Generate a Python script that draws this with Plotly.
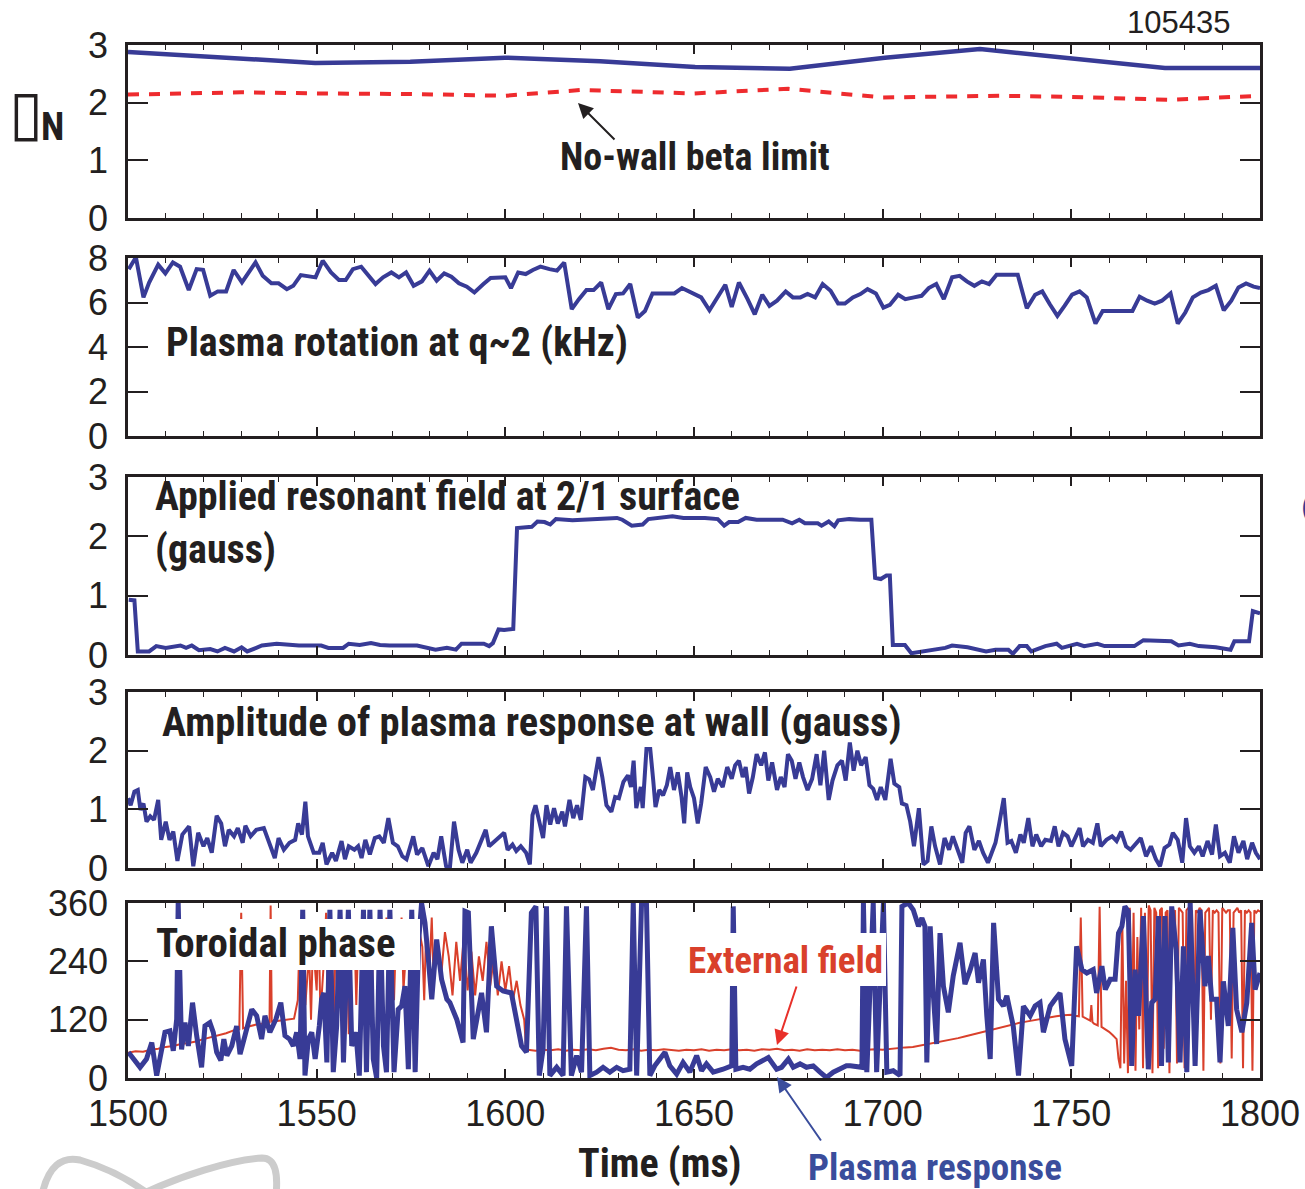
import plotly.graph_objects as go

# ---------------- data ----------------
beta_n = [(1500, 2.88), (1549.6, 2.69), (1574.8, 2.71), (1599.9, 2.78), (1625.1, 2.72),
          (1650.3, 2.62), (1675.4, 2.59), (1700.6, 2.78), (1725.8, 2.93), (1774.8, 2.60),
          (1800, 2.60)]
beta_nowall = [(1500, 2.14), (1530, 2.18), (1550, 2.16), (1575, 2.15), (1600, 2.12),
               (1620, 2.22), (1625, 2.21), (1650, 2.16), (1675, 2.24), (1700, 2.09),
               (1731, 2.12), (1750, 2.10), (1776, 2.05), (1800, 2.12)]

rotation = [(1500.2, 7.50), (1502.1, 8.03), (1504.1, 6.23), (1505.6, 6.90), (1508.0, 7.70),
            (1509.9, 7.31), (1511.9, 7.80), (1513.8, 7.61), (1516.1, 6.56), (1518.2, 7.50),
            (1519.9, 7.47), (1521.8, 6.30), (1523.8, 6.50), (1526.0, 6.50), (1528.0, 7.46),
            (1530.2, 6.90), (1533.8, 7.80), (1535.7, 7.20), (1538.0, 6.86), (1539.9, 6.86),
            (1542.1, 6.60), (1543.8, 6.75), (1545.8, 7.23), (1549.7, 7.13), (1551.6, 7.88),
            (1553.8, 7.35), (1555.9, 7.01), (1557.7, 7.01), (1559.6, 7.50), (1561.8, 7.61),
            (1565.6, 6.83), (1567.6, 7.13), (1569.8, 7.35), (1571.8, 7.13), (1573.7, 7.35),
            (1575.7, 6.75), (1577.9, 6.95), (1579.9, 7.43), (1581.8, 6.98), (1583.8, 7.31),
            (1585.7, 7.16), (1587.7, 6.86), (1589.8, 6.71), (1591.8, 6.45), (1594.2, 6.83),
            (1596.1, 7.10), (1600.0, 7.13), (1601.5, 6.65), (1603.4, 7.35), (1605.4, 7.28),
            (1607.3, 7.46), (1609.3, 7.61), (1611.7, 7.50), (1613.7, 7.43), (1615.6, 7.80),
            (1617.6, 5.70), (1619.5, 6.15), (1621.5, 6.56), (1623.4, 6.56), (1625.4, 6.90),
            (1627.3, 5.70), (1629.3, 6.38), (1631.2, 6.41), (1633.1, 6.83), (1635.1, 5.32),
            (1637.0, 5.62), (1639.0, 6.41), (1644.8, 6.41), (1646.8, 6.65), (1648.7, 6.50),
            (1651.9, 6.23), (1654.1, 5.65), (1656.3, 6.23), (1658.3, 6.80), (1660.0, 5.80),
            (1661.9, 6.90), (1664.2, 6.15), (1666.1, 5.47), (1668.1, 6.35), (1670.0, 5.85),
            (1672.0, 6.08), (1674.3, 6.50), (1676.2, 6.23), (1678.2, 6.23), (1680.1, 6.38),
            (1682.1, 6.23), (1684.1, 6.83), (1686.2, 6.53), (1688.2, 5.95), (1690.0, 5.95),
            (1692.1, 6.23), (1694.1, 6.38), (1696.0, 6.60), (1698.2, 6.41), (1700.2, 5.77),
            (1701.9, 5.89), (1704.1, 6.35), (1706.0, 6.15), (1708.3, 6.23), (1710.3, 6.30),
            (1712.2, 6.65), (1714.2, 6.83), (1716.2, 6.15), (1718.4, 7.13), (1720.4, 7.20),
            (1722.3, 6.95), (1724.3, 6.75), (1726.3, 6.95), (1728.2, 6.83), (1730.2, 7.25),
            (1735.8, 7.25), (1738.2, 5.74), (1740.4, 6.35), (1742.3, 6.50), (1744.3, 5.92),
            (1746.3, 5.40), (1748.2, 5.85), (1750.2, 6.35), (1752.2, 6.50), (1754.1, 6.23),
            (1756.4, 5.05), (1758.3, 5.62), (1766.2, 5.62), (1768.1, 6.26), (1770.1, 6.08),
            (1772.1, 5.95), (1774.0, 6.08), (1776.3, 6.41), (1778.2, 5.05), (1780.2, 5.55),
            (1782.2, 6.23), (1784.3, 6.45), (1786.3, 6.56), (1788.3, 6.75), (1790.4, 5.65),
            (1792.4, 6.08), (1794.3, 6.68), (1796.3, 6.86), (1798.3, 6.71), (1800.0, 6.65)]

applied_field = [(1500.2, 0.93), (1501.7, 0.92), (1502.6, 0.06), (1505.6, 0.06), (1507.5, 0.15),
                 (1510.0, 0.12), (1513.9, 0.16), (1515.4, 0.12), (1516.9, 0.16), (1518.8, 0.08),
                 (1521.8, 0.10), (1523.7, 0.06), (1525.7, 0.12), (1528.1, 0.06), (1530.1, 0.13),
                 (1531.6, 0.06), (1534.0, 0.12), (1535.5, 0.16), (1539.4, 0.19), (1545.3, 0.16),
                 (1551.2, 0.16), (1553.1, 0.12), (1557.0, 0.12), (1558.5, 0.19), (1561.4, 0.17),
                 (1564.4, 0.20), (1566.8, 0.17), (1569.3, 0.16), (1576.6, 0.16), (1579.1, 0.12),
                 (1581.5, 0.09), (1584.5, 0.12), (1586.9, 0.09), (1588.4, 0.19), (1594.3, 0.19),
                 (1595.7, 0.15), (1596.7, 0.20), (1598.2, 0.43), (1599.7, 0.42), (1602.1, 0.44),
                 (1603.1, 2.14), (1607.0, 2.16), (1608.5, 2.25), (1610.4, 2.24), (1611.9, 2.20),
                 (1613.4, 2.29), (1617.8, 2.27), (1629.6, 2.31), (1631.0, 2.28), (1633.5, 2.18),
                 (1636.4, 2.20), (1637.9, 2.29), (1641.3, 2.31), (1644.3, 2.34), (1647.2, 2.31),
                 (1652.9, 2.31), (1656.3, 2.29), (1658.0, 2.18), (1659.3, 2.24), (1661.7, 2.24),
                 (1663.7, 2.31), (1666.6, 2.28), (1673.5, 2.28), (1676.0, 2.22), (1677.9, 2.28),
                 (1679.4, 2.22), (1682.8, 2.22), (1683.8, 2.18), (1685.7, 2.25), (1687.2, 2.17),
                 (1688.2, 2.27), (1691.1, 2.29), (1694.1, 2.28), (1697.0, 2.28), (1698.0, 1.30),
                 (1699.5, 1.28), (1701.0, 1.34), (1701.9, 1.34), (1702.7, 0.17), (1705.9, 0.17),
                 (1707.6, 0.03), (1712.7, 0.09), (1716.6, 0.12), (1718.4, 0.16), (1722.5, 0.13),
                 (1727.4, 0.06), (1729.9, 0.09), (1733.3, 0.09), (1734.5, 0.02), (1736.3, 0.15),
                 (1738.2, 0.15), (1739.4, 0.06), (1743.1, 0.15), (1746.1, 0.19), (1747.5, 0.12),
                 (1751.5, 0.19), (1753.4, 0.15), (1756.9, 0.19), (1758.8, 0.15), (1766.7, 0.15),
                 (1769.1, 0.25), (1776.5, 0.23), (1778.4, 0.16), (1781.4, 0.19), (1783.8, 0.15),
                 (1788.3, 0.13), (1792.2, 0.09), (1793.2, 0.23), (1797.1, 0.23), (1798.1, 0.74),
                 (1800.0, 0.70)]

response_amplitude = [
    (1500.0, 1.19), (1500.7, 1.07), (1501.7, 1.30), (1502.6, 1.33), (1503.3, 0.99), (1504.1, 1.10),
    (1504.9, 0.79), (1505.9, 0.88), (1506.9, 0.82), (1508.0, 1.16), (1508.8, 0.48), (1510.0, 0.79),
    (1511.0, 0.48), (1512.0, 0.62), (1513.1, 0.12), (1514.4, 0.57), (1516.2, 0.71), (1517.3, 0.03),
    (1518.6, 0.60), (1520.0, 0.37), (1521.0, 0.51), (1522.2, 0.26), (1523.5, 0.89), (1524.7, 0.76),
    (1525.7, 0.37), (1526.7, 0.65), (1528.1, 0.54), (1529.1, 0.68), (1530.4, 0.43), (1531.1, 0.72),
    (1532.5, 0.54), (1534.0, 0.65), (1536.0, 0.68), (1537.4, 0.43), (1538.9, 0.17), (1539.9, 0.51),
    (1541.3, 0.31), (1542.8, 0.43), (1544.3, 0.48), (1545.1, 0.76), (1546.1, 0.57), (1547.0, 1.13),
    (1547.7, 0.54), (1549.2, 0.26), (1550.7, 0.26), (1551.6, 0.43), (1552.6, 0.06), (1554.1, 0.26),
    (1555.1, 0.12), (1556.6, 0.46), (1557.5, 0.15), (1558.5, 0.37), (1560.0, 0.31), (1561.0, 0.37),
    (1561.9, 0.17), (1562.9, 0.48), (1564.1, 0.23), (1565.4, 0.51), (1566.6, 0.54), (1567.8, 0.43),
    (1569.0, 0.85), (1570.2, 0.43), (1571.5, 0.37), (1572.7, 0.20), (1573.8, 0.15), (1575.6, 0.54),
    (1576.6, 0.23), (1578.0, 0.34), (1579.6, 0.03), (1581.0, 0.26), (1582.0, 0.15), (1583.0, 0.54),
    (1584.3, 0.03), (1585.3, 0.00), (1586.4, 0.79), (1587.6, 0.31), (1588.6, 0.09), (1589.9, 0.31),
    (1590.8, 0.09), (1592.3, 0.26), (1593.5, 0.46), (1594.8, 0.65), (1595.7, 0.37), (1596.7, 0.43),
    (1598.2, 0.51), (1599.7, 0.60), (1600.6, 0.31), (1601.9, 0.40), (1602.9, 0.29), (1604.1, 0.37),
    (1605.5, 0.26), (1606.5, 0.06), (1607.2, 0.90), (1608.0, 1.07), (1609.0, 0.79), (1610.0, 0.51),
    (1610.9, 1.07), (1611.9, 0.74), (1612.9, 1.02), (1613.9, 0.76), (1615.1, 0.96), (1615.8, 0.71),
    (1617.0, 1.16), (1618.0, 0.85), (1619.0, 1.07), (1620.0, 0.82), (1621.2, 1.55), (1622.2, 1.51),
    (1623.2, 1.33), (1624.7, 1.89), (1625.7, 1.55), (1626.8, 1.07), (1628.1, 0.96), (1629.1, 1.21),
    (1630.1, 1.19), (1631.3, 1.47), (1632.5, 1.58), (1633.3, 1.38), (1634.0, 1.83), (1634.7, 1.02),
    (1635.9, 1.38), (1636.4, 1.02), (1637.4, 2.03), (1638.4, 2.03), (1639.2, 1.49), (1639.8, 1.04),
    (1640.8, 1.33), (1641.8, 1.24), (1642.8, 1.41), (1643.7, 1.72), (1644.7, 1.33), (1645.7, 1.63),
    (1646.7, 1.21), (1647.4, 0.76), (1648.2, 1.63), (1649.0, 1.38), (1650.0, 1.19), (1651.0, 0.76),
    (1651.9, 1.10), (1653.1, 1.72), (1654.3, 1.55), (1655.3, 1.30), (1656.3, 1.52), (1657.6, 1.38),
    (1658.8, 1.72), (1660.0, 1.52), (1660.9, 1.75), (1661.9, 1.83), (1662.9, 1.55), (1663.7, 1.72),
    (1664.6, 1.27), (1665.6, 1.55), (1666.6, 1.94), (1667.8, 1.75), (1668.8, 1.97), (1669.7, 1.49),
    (1670.7, 1.80), (1672.0, 1.33), (1673.0, 1.55), (1674.0, 1.38), (1674.9, 1.94), (1675.9, 1.83),
    (1676.9, 1.52), (1677.9, 1.80), (1678.9, 1.55), (1680.1, 1.33), (1681.3, 1.52), (1682.5, 1.94),
    (1683.5, 1.41), (1684.5, 2.00), (1685.7, 1.16), (1686.7, 1.49), (1688.0, 1.75), (1689.2, 1.83),
    (1690.2, 1.49), (1691.3, 2.14), (1692.3, 1.66), (1693.3, 2.00), (1694.3, 1.75), (1695.5, 1.89),
    (1696.5, 1.41), (1697.5, 1.35), (1698.5, 1.16), (1699.5, 1.38), (1700.7, 1.16), (1702.1, 1.86),
    (1703.1, 1.44), (1704.4, 1.38), (1705.1, 1.10), (1706.3, 1.07), (1707.3, 0.79), (1708.3, 0.37),
    (1709.6, 1.02), (1710.8, 0.06), (1711.9, 0.12), (1712.9, 0.71), (1713.9, 0.37), (1715.2, 0.06),
    (1716.4, 0.51), (1717.6, 0.31), (1718.6, 0.54), (1719.8, 0.31), (1721.1, 0.09), (1722.0, 0.60),
    (1723.0, 0.71), (1724.3, 0.31), (1725.5, 0.46), (1726.6, 0.26), (1727.9, 0.09), (1728.9, 0.26),
    (1729.9, 0.43), (1730.9, 0.76), (1732.1, 1.19), (1733.1, 0.43), (1734.1, 0.46), (1735.3, 0.26),
    (1736.5, 0.57), (1737.4, 0.43), (1738.6, 0.85), (1739.7, 0.37), (1740.7, 0.57), (1742.0, 0.37),
    (1743.1, 0.48), (1744.6, 0.46), (1745.6, 0.71), (1746.6, 0.37), (1747.8, 0.60), (1749.0, 0.54),
    (1750.0, 0.37), (1751.0, 0.51), (1752.2, 0.68), (1753.1, 0.37), (1754.4, 0.48), (1755.7, 0.43),
    (1756.9, 0.76), (1757.8, 0.37), (1759.3, 0.48), (1760.8, 0.54), (1762.0, 0.46), (1763.2, 0.62),
    (1764.5, 0.37), (1765.7, 0.31), (1767.2, 0.43), (1768.4, 0.51), (1769.8, 0.20), (1771.1, 0.37),
    (1772.4, 0.15), (1773.5, 0.03), (1774.7, 0.34), (1776.0, 0.40), (1776.9, 0.60), (1778.2, 0.48),
    (1779.4, 0.09), (1780.4, 0.85), (1781.4, 0.37), (1782.6, 0.26), (1783.8, 0.37), (1784.8, 0.20),
    (1786.1, 0.46), (1787.3, 0.23), (1788.3, 0.74), (1789.4, 0.20), (1790.7, 0.26), (1792.0, 0.09),
    (1793.1, 0.54), (1794.3, 0.26), (1795.6, 0.46), (1796.6, 0.15), (1797.9, 0.43), (1798.9, 0.26),
    (1800.0, 0.15)]

phase_plasma = [
    (1500.1, 53), (1501.4, 39), (1503.2, 22), (1504.9, 39), (1506.3, 73), (1507.6, 5), (1508.5, 39),
    (1509.8, 94), (1511.1, 97), (1512.0, 56), (1512.9, 121), (1513.3, 360), (1514.2, 59), (1515.1, 114),
    (1516.0, 66), (1517.1, 155), (1518.2, 87), (1519.5, 22), (1520.4, 107), (1521.7, 114), (1522.6, 94),
    (1523.5, 53), (1524.6, 36), (1525.4, 80), (1526.2, 46), (1527.5, 66), (1528.8, 107), (1529.7, 49),
    (1531.0, 87), (1532.8, 141), (1534.1, 128), (1535.4, 80), (1536.3, 128), (1537.6, 94), (1539.2, 121),
    (1540.5, 155), (1541.6, 87), (1542.8, 80), (1543.8, 66), (1544.7, 94), (1545.6, 39), (1546.3, 346),
    (1546.9, 5), (1547.8, 80), (1548.7, 94), (1549.6, 39), (1550.7, 107), (1551.3, 162), (1551.9, 175),
    (1552.7, 32), (1553.5, 346), (1554.4, 12), (1555.3, 107), (1556.2, 346), (1557.1, 32), (1558.4, 346),
    (1559.3, 66), (1560.4, 94), (1561.3, 5), (1562.4, 346), (1563.2, 12), (1564.1, 346), (1565.0, 39),
    (1565.9, 0), (1566.8, 346), (1567.7, 66), (1568.5, 12), (1569.4, 346), (1570.5, 12), (1571.6, 141),
    (1572.5, 148), (1573.4, 189), (1574.3, 18), (1575.2, 346), (1576.1, 12), (1577.0, 278), (1577.8, 360),
    (1578.7, 319), (1579.6, 244), (1580.5, 162), (1581.8, 285), (1583.1, 203), (1584.5, 162),
    (1585.3, 155), (1587.1, 121), (1588.8, 73), (1589.3, 343), (1590.2, 340), (1591.5, 80), (1593.7, 175),
    (1595.0, 94), (1596.3, 312), (1597.7, 189), (1599.4, 179), (1601.6, 175), (1603.0, 121), (1604.3, 66),
    (1605.6, 53), (1606.9, 340), (1608.1, 353), (1609.0, 5), (1610.0, 59), (1610.9, 353), (1611.8, 5),
    (1613.6, 22), (1615.3, 5), (1616.2, 353), (1617.5, 5), (1618.9, 46), (1620.2, 12), (1621.5, 353),
    (1622.4, 5), (1624.2, 12), (1625.9, 22), (1627.7, 12), (1629.5, 22), (1631.2, 15), (1633.0, 18),
    (1633.9, 360), (1634.8, 5), (1636.1, 360), (1637.4, 360), (1638.3, 5), (1639.6, 25), (1641.4, 46),
    (1642.3, 53), (1643.6, 25), (1645.4, 8), (1647.1, 32), (1648.9, 12), (1650.7, 46), (1652.0, 15),
    (1653.3, 29), (1655.1, 12), (1657.7, 18), (1660.0, 25), (1660.4, 353), (1661.1, 18), (1663.0, 22),
    (1664.8, 18), (1666.6, 29), (1668.3, 36), (1669.7, 42), (1670.6, 32), (1671.9, 18), (1673.2, 22),
    (1675.0, 39), (1676.3, 22), (1678.1, 29), (1679.8, 22), (1681.6, 25), (1683.4, 12), (1685.1, 1),
    (1686.9, 12), (1688.7, 18), (1690.4, 25),
    (1691.4, 25), (1694.5, 22), (1694.9, 360), (1695.8, 12), (1697.5, 360), (1698.4, 12), (1700.2, 360),
    (1701.1, 12), (1702.8, 15), (1704.6, 5), (1705.1, 353), (1706.8, 360), (1708.1, 346), (1709.5, 312),
    (1710.4, 329), (1711.2, 312), (1711.7, 32), (1712.6, 312), (1713.4, 175), (1714.3, 70), (1715.2, 298),
    (1716.1, 189), (1717.4, 135), (1718.7, 210), (1720.5, 278), (1721.8, 193), (1723.2, 223), (1724.5, 257),
    (1725.4, 196), (1726.7, 244), (1727.6, 128), (1728.5, 39), (1729.4, 319), (1730.7, 162), (1732.0, 148),
    (1732.9, 169), (1734.6, 107), (1736.0, 5), (1737.3, 148), (1739.1, 128), (1740.4, 148), (1741.7, 155),
    (1742.6, 94), (1744.4, 148), (1745.7, 162), (1747.0, 175), (1748.3, 80), (1750.1, 25), (1751.4, 271),
    (1752.8, 223), (1754.1, 216), (1755.8, 223), (1756.7, 175), (1758.1, 230), (1759.0, 182), (1760.3, 203),
    (1761.6, 203), (1762.5, 298), (1763.4, 312), (1764.2, 353), (1765.1, 343), (1766.0, 25), (1766.9, 223),
    (1767.8, 128), (1769.1, 333), (1770.4, 18), (1771.3, 155), (1772.2, 162), (1773.1, 333), (1773.9, 25),
    (1774.8, 333), (1775.7, 32), (1776.6, 353), (1777.8, 264), (1778.8, 32), (1779.7, 271), (1780.6, 12),
    (1781.5, 360), (1782.8, 25), (1784.1, 346), (1785.4, 189), (1786.3, 251), (1787.2, 162), (1788.5, 162),
    (1789.4, 32), (1790.3, 199), (1791.6, 107), (1792.8, 309), (1793.8, 141), (1795.2, 94), (1796.5, 155),
    (1797.8, 319), (1798.7, 182), (1800.0, 216)]

phase_external = [
    (1500, 52), (1502, 55), (1504, 54), (1506, 58), (1508, 60), (1510, 64), (1512, 66), (1514, 70),
    (1516, 72), (1518, 75), (1520, 80), (1522, 84), (1524, 88), (1526, 92), (1528, 98), (1529.5, 100),
    (1530, 340), (1530.5, 102), (1532, 106), (1534, 110), (1536, 112), (1537.5, 114), (1537.8, 355),
    (1538.1, 116), (1540, 118), (1542, 120), (1544, 122), (1545, 160), (1545.5, 300), (1546, 140),
    (1546.5, 330), (1547, 150), (1548, 260), (1548.5, 120), (1549, 280), (1550, 180), (1550.5, 320),
    (1551, 130), (1552, 250), (1552.5, 340), (1553, 160), (1554, 300), (1554.5, 110), (1555, 270),
    (1556, 200), (1556.5, 330), (1557, 170), (1558, 290), (1558.5, 90), (1559, 250), (1560, 310),
    (1560.5, 150), (1561, 280), (1562, 200), (1562.5, 340), (1563, 230), (1564, 300), (1564.5, 140),
    (1565, 280), (1566, 320), (1566.5, 180), (1567, 300), (1568, 250), (1568.5, 330), (1569, 200),
    (1570, 310), (1570.5, 160), (1571, 290), (1572, 230), (1572.5, 330), (1573, 180), (1574, 300),
    (1575, 250), (1575.5, 330), (1576, 190), (1577, 310), (1578, 270), (1578.5, 160), (1579, 300),
    (1580, 240), (1580.5, 330), (1581, 200), (1582, 280), (1583, 210), (1584, 300), (1585, 250),
    (1586, 170), (1587, 280), (1588, 200), (1589, 290), (1590, 180), (1591, 260), (1592, 170),
    (1593, 250), (1594, 200), (1595, 280), (1596, 190), (1597, 250), (1598, 170), (1599, 240),
    (1600, 180), (1601, 230), (1602, 160), (1603, 200), (1604, 150), (1605, 120), (1605.5, 60),
    (1606, 58), (1608, 56), (1610, 58), (1612, 57), (1614, 59), (1616, 56), (1618, 58), (1620, 57),
    (1622, 59), (1624, 57), (1626, 60), (1628, 62), (1630, 58), (1632, 57), (1634, 59), (1636, 56),
    (1638, 58), (1640, 57), (1642, 59), (1644, 58), (1646, 56), (1648, 58), (1650, 57), (1652, 59),
    (1654, 56), (1656, 58), (1658, 57), (1660, 59), (1662, 57), (1664, 58), (1666, 56), (1668, 59),
    (1670, 58), (1672, 60), (1674, 57), (1676, 58), (1678, 56), (1680, 59), (1682, 57), (1684, 58),
    (1686, 57), (1688, 59), (1690, 57), (1692, 58), (1694, 56), (1696, 58), (1698, 59), (1700, 58),
    (1702, 60), (1704, 61), (1706, 63), (1708, 64), (1710, 67), (1712, 69), (1714, 72), (1716, 75),
    (1718, 78), (1720, 82), (1722, 86), (1724, 90), (1726, 94), (1728, 98), (1730, 102), (1732, 106),
    (1734, 110), (1736, 113), (1738, 116), (1740, 119), (1742, 122), (1744, 125), (1746, 127),
    (1748, 129), (1750, 130), (1751, 128), (1752, 127), (1752.5, 330), (1753, 126), (1754, 122),
    (1755, 118), (1755.3, 150), (1755.6, 115), (1756, 112), (1757, 108), (1757.5, 352), (1758, 105),
    (1759, 100), (1760, 95), (1761, 88), (1762, 80), (1762.5, 40), (1763, 20), (1763.5, 330),
    (1764, 30), (1764.5, 200), (1765, 10), (1765.5, 350), (1766, 60), (1766.5, 340), (1767, 15),
    (1767.5, 290), (1768, 100), (1768.5, 350), (1769, 20), (1769.5, 340), (1770, 40), (1770.5, 355),
    (1771, 345), (1771.5, 10), (1772, 350), (1772.5, 340), (1773, 20), (1773.5, 345), (1774, 350),
    (1774.5, 60), (1775, 340), (1775.5, 345), (1776, 10), (1776.5, 350), (1777, 340), (1777.5, 345),
    (1778, 30), (1778.5, 350), (1779, 345), (1779.5, 340), (1780, 20), (1780.5, 345), (1781, 350),
    (1781.5, 340), (1782, 345), (1782.5, 50), (1783, 345), (1783.5, 340), (1784, 350), (1784.5, 345),
    (1785, 15), (1785.5, 340), (1786, 345), (1786.5, 350), (1787, 120), (1787.5, 345), (1788, 340),
    (1788.5, 345), (1789, 340), (1789.5, 30), (1790, 350), (1790.5, 345), (1791, 340), (1791.5, 345),
    (1792, 345), (1792.5, 40), (1793, 340), (1793.5, 345), (1794, 350), (1794.5, 340), (1795, 345),
    (1795.5, 20), (1796, 345), (1796.5, 340), (1797, 345), (1797.5, 340), (1798, 15), (1798.5, 345),
    (1799, 340), (1799.5, 345), (1800, 342)]

x_ticks = [1500, 1550, 1600, 1650, 1700, 1750, 1800]
y_ticks = [[0, 1, 2, 3], [0, 2, 4, 6, 8], [0, 1, 2, 3], [0, 1, 2, 3], [0, 120, 240, 360]]
y_ranges = [[0, 3], [0, 8], [0, 3], [0, 3], [0, 360]]

# ---------------- styling ----------------
W, H = 1305, 1189
BLUE = '#383b96'
RED_DASH = '#ee2b2e'
RED = '#d9402b'
INK = '#231f20'
NUM_FONT = 'Liberation Sans, Arial, Helvetica, sans-serif'
BOLD_FONT = 'Liberation Sans Narrow, Arial Narrow, Roboto Condensed, DejaVu Sans Condensed, Liberation Sans, sans-serif'


def px(x):
    return x / W


def py(y):
    return 1 - y / H


panels = [(45, 218), (258, 436), (477, 655), (692, 868), (903, 1078)]
X0, X1 = 128, 1260


def xy(pairs):
    return [p[0] for p in pairs], [p[1] for p in pairs]


fig = go.Figure()

t, v = xy(beta_nowall)
fig.add_trace(go.Scatter(x=t, y=v, mode='lines', xaxis='x', yaxis='y',
                         line=dict(color=RED_DASH, width=4, dash='11px,10px')))
t, v = xy(beta_n)
fig.add_trace(go.Scatter(x=t, y=v, mode='lines', xaxis='x', yaxis='y',
                         line=dict(color=BLUE, width=4.5)))
t, v = xy(rotation)
fig.add_trace(go.Scatter(x=t, y=v, mode='lines', xaxis='x2', yaxis='y2',
                         line=dict(color=BLUE, width=4)))
t, v = xy(applied_field)
fig.add_trace(go.Scatter(x=t, y=v, mode='lines', xaxis='x3', yaxis='y3',
                         line=dict(color=BLUE, width=4)))
t, v = xy(response_amplitude)
fig.add_trace(go.Scatter(x=t, y=v, mode='lines', xaxis='x4', yaxis='y4',
                         line=dict(color=BLUE, width=4)))
t, v = xy(phase_external)
fig.add_trace(go.Scatter(x=t, y=v, mode='lines', xaxis='x5', yaxis='y5',
                         line=dict(color=RED, width=2)))
t, v = xy(phase_plasma)
fig.add_trace(go.Scatter(x=t, y=v, mode='lines', xaxis='x5', yaxis='y5',
                         line=dict(color=BLUE, width=5)))

layout = dict(width=W, height=H, margin=dict(l=0, r=0, t=0, b=0, autoexpand=False),
              paper_bgcolor='white', plot_bgcolor='white', showlegend=False,
              font=dict(family=NUM_FONT, color=INK, size=36))

for i, (top, bot) in enumerate(panels):
    n = '' if i == 0 else str(i + 1)
    last = i == len(panels) - 1
    layout['xaxis' + n] = dict(
        domain=[px(X0), px(X1)], anchor='y' + n, range=[1500, 1800], automargin=False,
        tickvals=x_ticks, showticklabels=last, ticks='inside', ticklen=9, tickwidth=1.6,
        tickcolor=INK, showline=True, linecolor=INK, linewidth=2.6, mirror='ticks',
        showgrid=False, zeroline=False,
        minor=dict(dtick=10, tick0=1500, ticks='inside', ticklen=5, tickwidth=1.2,
                   tickcolor=INK, showgrid=False),
        tickfont=dict(family=NUM_FONT, size=36, color=INK), ticklabelstandoff=2)
    layout['yaxis' + n] = dict(
        domain=[py(bot), py(top)], anchor='x' + n, range=y_ranges[i], tickvals=y_ticks[i],
        automargin=False,
        ticks='inside', ticklen=20, tickwidth=1.6, tickcolor=INK, showline=True,
        linecolor=INK, linewidth=2.6, mirror='ticks', showgrid=False, zeroline=False,
        tickfont=dict(family=NUM_FONT, size=36, color=INK), ticklabelstandoff=10)

shapes = [
    dict(type='rect', xref='paper', yref='paper', x0=px(148), x1=px(420), y0=py(970), y1=py(919),
         fillcolor='white', line=dict(width=0), layer='above'),
    dict(type='rect', xref='paper', yref='paper', x0=px(684), x1=px(886), y0=py(986), y1=py(933),
         fillcolor='white', line=dict(width=0), layer='above'),
]


def path(cmds):
    out = []
    for c in cmds:
        if isinstance(c, str):
            out.append(c)
        else:
            out.append('%.5f,%.5f' % (px(c[0]), py(c[1])))
    return ' '.join(out)


logo_style = dict(type='path', xref='paper', yref='paper', line=dict(color='#cccccc', width=7),
                  fillcolor='rgba(0,0,0,0)', layer='above')
shapes.append(dict(path=path(['M', (42, 1195), 'C', (48, 1166), (62, 1156), (80, 1160),
                              'C', (105, 1167), (130, 1180), (150, 1195)]), **logo_style))
shapes.append(dict(path=path(['M', (140, 1195), 'C', (180, 1176), (230, 1160), (262, 1158),
                              'C', (276, 1158), (278, 1175), (276, 1195)]), **logo_style))
layout['shapes'] = shapes


def label(text, x, y, size=40, color=INK, xanchor='center', family=BOLD_FONT, bold=True):
    return dict(text=('<b>%s</b>' % text) if bold else text, x=px(x), y=py(y), xref='paper',
                yref='paper', showarrow=False, xanchor=xanchor, yanchor='middle',
                font=dict(family=family, size=size, color=color))


def arrow(hx, hy, tx, ty, color):
    return dict(text='', x=px(hx), y=py(hy), xref='paper', yref='paper', showarrow=True,
                ax=tx - hx, ay=ty - hy, arrowhead=2, arrowsize=1.5, arrowwidth=2,
                arrowcolor=color)


annotations = [
    label('105435', 1178, 22, size=31, family=NUM_FONT, bold=False),
    label('\u25af', 26, 112, size=62, family='DejaVu Sans', bold=False),
    label('N', 53, 127, size=38),
    label('No-wall beta limit', 695, 157, size=38),
    label('Plasma rotation at q~2 (kHz)', 164, 342, size=40, xanchor='left'),
    label('Applied resonant field at 2/1 surface', 153, 496, size=40, xanchor='left'),
    label('(gauss)', 153, 549, size=40, xanchor='left'),
    label('Amplitude of plasma response at wall (gauss)', 160, 722, size=40.5, xanchor='left'),
    label('Toroidal phase', 154, 943, size=41, xanchor='left'),
    label('External field', 785, 960, size=37, color=RED),
    label('Time (ms)', 660, 1163, size=40),
    label('Plasma response', 935, 1167, size=37, color='#3a4d9c'),
    label('(', 1299, 505, size=34, color=BLUE, xanchor='left', family=NUM_FONT, bold=False),
    arrow(578, 103, 616, 141, INK),
    arrow(777, 1045, 797, 985, '#e8302a'),
    arrow(777, 1077, 822, 1142, '#3a4d9c'),
]
layout['annotations'] = annotations

fig.update_layout(**layout)
fig.write_html('out.html')
